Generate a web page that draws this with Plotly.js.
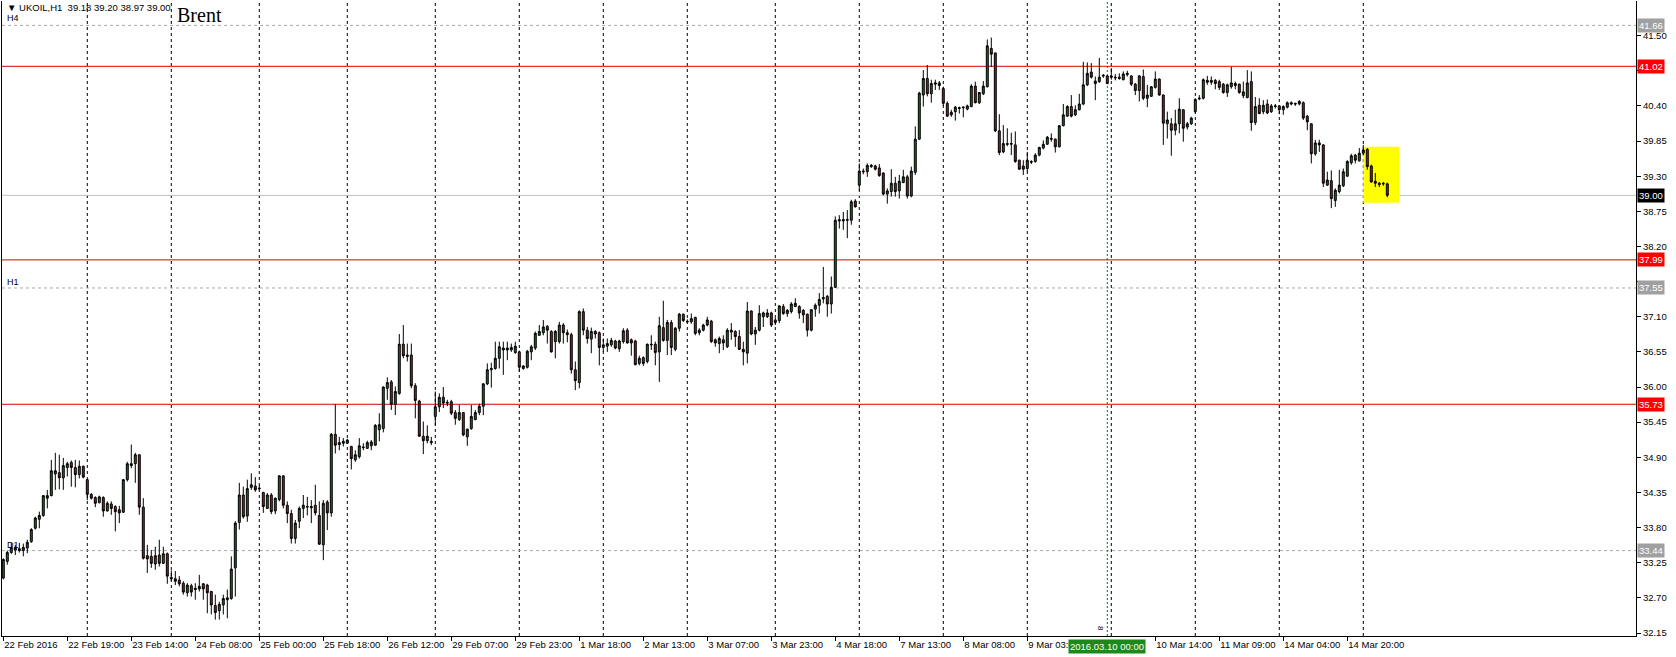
<!DOCTYPE html>
<html><head><meta charset="utf-8">
<script src="https://cdn.plot.ly/plotly-3.0.1.min.js"></script>
<style>html,body{margin:0;padding:0;background:#fff;}#chart{width:1676px;height:657px;}</style>
</head><body><div id="chart"></div>
<script>
// ---- UKOIL H1 OHLC ----
const openP = [33.01,33.27,33.41,33.49,33.47,33.44,33.48,33.58,33.79,33.93,33.99,34.26,34.30,34.64,34.66,34.58,34.74,34.82,34.74,34.63,
34.76,34.55,34.32,34.27,34.19,34.27,34.06,34.17,34.13,34.08,34.04,34.55,34.77,34.80,34.94,34.12,33.36,33.35,33.23,33.37,
33.24,33.39,33.02,33.00,32.98,32.93,32.78,32.89,32.85,32.84,32.92,32.90,32.80,32.58,32.50,32.59,32.67,32.69,33.17,33.88,
34.31,33.98,34.43,34.45,34.42,34.35,34.10,34.31,34.06,34.24,34.61,34.15,34.02,33.63,33.90,34.10,34.12,34.13,34.15,33.99,
33.53,34.20,34.03,35.26,35.13,35.12,35.12,35.07,34.86,34.91,35.05,35.04,35.08,35.09,35.33,35.35,35.98,36.08,35.73,35.90,
36.67,36.50,36.50,36.02,35.78,35.23,35.16,35.15,35.54,35.69,35.84,35.76,35.77,35.60,35.49,35.60,35.22,35.35,35.49,35.60,
35.70,36.05,36.27,36.29,36.45,36.58,36.58,36.58,36.54,36.55,36.29,36.31,36.55,36.61,36.81,36.85,36.95,36.87,36.71,36.71,
36.97,36.85,36.82,36.27,36.07,37.18,36.89,36.75,36.87,36.85,36.62,36.64,36.66,36.72,36.60,36.71,36.89,36.74,36.72,36.37,
36.46,36.40,36.67,36.67,36.55,36.93,36.73,37.01,36.59,36.92,37.14,37.03,37.02,37.09,36.85,36.89,36.97,37.03,36.74,36.68,
36.74,36.63,36.89,36.87,36.79,36.59,36.53,37.19,36.83,36.89,37.10,37.10,37.16,37.05,37.04,37.26,37.15,37.18,37.26,37.26,
37.20,37.14,36.89,37.22,37.28,37.38,37.42,37.30,37.56,38.62,38.60,38.61,38.61,38.91,39.16,39.38,39.37,39.45,39.46,39.43,
39.35,39.02,39.06,39.19,39.07,39.20,39.29,38.99,39.36,39.88,40.57,40.83,40.59,40.74,40.76,40.67,40.44,40.30,40.31,40.36,
40.37,40.35,40.39,40.71,40.45,40.59,40.70,41.30,41.23,40.01,39.68,39.81,39.80,39.79,39.55,39.46,39.42,39.53,39.53,39.63,
39.74,39.80,39.89,39.88,39.76,40.09,40.24,40.39,40.26,40.34,40.43,40.73,40.93,40.79,40.78,40.88,40.87,40.87,40.85,40.85,
40.81,40.89,40.87,40.74,40.64,40.86,40.52,40.55,40.69,40.82,40.57,40.12,40.12,40.02,40.12,40.34,40.07,40.12,40.31,40.51,
40.52,40.80,40.77,40.80,40.78,40.74,40.61,40.70,40.75,40.74,40.56,40.53,40.78,40.14,40.41,40.31,40.43,40.31,40.39,40.40,
40.34,40.38,40.45,40.44,40.43,40.45,40.24,40.12,39.65,39.82,39.79,39.16,39.23,38.92,39.06,39.15,39.30,39.51,39.63,39.54,
39.66,39.72,39.46,39.22,39.19,39.19,39.18];
const highP = [33.32,33.44,33.56,33.53,33.56,33.55,33.61,33.79,33.97,34.05,34.31,34.39,34.86,34.97,34.94,34.89,34.83,34.85,34.86,34.85,
34.77,34.56,34.34,34.29,34.30,34.29,34.21,34.21,34.15,34.14,34.56,34.83,35.10,34.97,34.94,34.26,33.53,33.45,33.50,33.61,
33.50,33.41,33.13,33.12,33.04,32.96,32.93,32.92,32.93,33.06,32.93,32.92,32.81,32.75,32.64,32.75,32.83,33.35,33.90,34.50,
34.44,34.55,34.65,34.59,34.46,34.36,34.34,34.34,34.27,34.62,34.62,34.21,34.08,33.92,34.13,34.31,34.28,34.23,34.47,34.21,
34.23,34.23,35.28,35.73,35.22,35.20,35.19,35.08,35.01,35.20,35.12,35.16,35.17,35.42,35.59,36.01,36.15,36.11,36.01,36.83,
36.97,36.68,36.68,36.06,35.80,35.46,35.40,35.22,35.93,35.90,36.00,35.80,35.80,35.64,35.72,35.61,35.35,35.72,35.64,35.74,
36.06,36.37,36.38,36.71,36.71,36.71,36.71,36.68,36.71,36.57,36.34,36.58,36.66,36.87,36.97,37.05,36.97,36.89,36.89,37.02,
37.00,36.90,36.85,36.40,37.20,37.23,36.94,36.93,36.89,36.87,36.76,36.76,36.77,36.74,36.74,36.92,36.92,36.76,36.74,36.49,
36.48,36.68,36.81,36.71,37.10,37.35,37.05,37.05,36.94,37.16,37.15,37.06,37.15,37.10,36.92,36.99,37.10,37.05,36.76,36.79,
36.81,36.92,37.00,36.89,36.89,36.71,37.33,37.20,36.94,37.28,37.18,37.22,37.18,37.08,37.28,37.30,37.22,37.33,37.39,37.28,
37.22,37.15,37.22,37.31,37.47,37.88,37.44,37.73,38.67,38.69,38.74,38.77,38.93,38.94,39.50,39.42,39.50,39.49,39.48,39.49,
39.36,39.11,39.41,39.29,39.32,39.40,39.32,39.45,40.08,40.62,40.96,41.04,40.81,40.81,40.79,40.70,40.47,40.34,40.40,40.39,
40.39,40.42,40.74,40.78,40.62,40.79,41.44,41.47,41.23,40.27,40.10,40.05,39.98,40.00,39.56,39.55,39.68,39.55,39.66,39.76,
39.86,39.93,39.97,39.89,40.10,40.43,40.41,40.57,40.41,40.59,41.09,41.08,41.07,40.86,41.15,40.90,40.88,40.99,40.90,40.91,
40.94,40.95,40.88,40.76,40.88,40.97,40.73,40.71,40.94,40.83,40.58,40.31,40.21,40.34,40.52,40.35,40.15,40.23,40.52,40.57,
40.83,40.87,40.86,40.82,40.81,40.76,40.75,41.01,40.78,40.75,40.78,40.96,40.94,40.54,40.52,40.49,40.50,40.43,40.43,40.41,
40.41,40.47,40.47,40.45,40.49,40.47,40.26,40.13,39.87,39.87,39.80,39.37,39.39,39.11,39.40,39.42,39.55,39.65,39.65,39.74,
39.79,39.74,39.48,39.35,39.21,39.21,39.20];
const lowP = [32.99,33.22,33.39,33.37,33.41,33.35,33.40,33.56,33.77,33.79,33.97,34.10,34.29,34.39,34.40,34.39,34.60,34.44,34.43,34.57,
34.57,34.23,34.24,34.12,34.18,33.97,34.05,34.00,33.74,33.87,34.03,34.52,34.73,34.50,34.00,33.30,33.09,33.17,33.14,33.19,
33.23,32.92,32.96,32.90,32.88,32.75,32.72,32.72,32.67,32.80,32.67,32.46,32.44,32.36,32.36,32.44,32.38,32.67,32.72,33.77,
33.94,33.89,34.39,34.36,34.38,34.03,34.09,34.01,34.01,34.21,34.10,33.87,33.55,33.55,33.79,33.95,33.99,33.87,33.99,33.53,
33.29,33.76,33.97,34.96,35.01,35.07,35.11,34.71,34.83,34.88,35.01,35.03,35.01,35.08,35.15,35.29,35.80,35.64,35.56,35.88,
36.45,36.40,35.98,35.51,35.22,34.95,35.12,35.09,35.40,35.61,35.67,35.70,35.56,35.41,35.47,35.23,35.08,35.33,35.48,35.56,
35.56,36.03,35.99,36.27,36.29,36.19,36.42,36.55,36.52,36.24,36.27,36.29,36.42,36.58,36.80,36.81,36.68,36.54,36.45,36.68,
36.68,36.70,36.21,35.95,35.98,36.81,36.68,36.53,36.76,36.34,36.55,36.55,36.63,36.59,36.55,36.68,36.68,36.49,36.34,36.34,
36.33,36.37,36.58,36.34,36.08,36.71,36.50,36.50,36.56,36.87,37.02,37.00,36.99,36.81,36.81,36.87,36.95,36.69,36.63,36.53,
36.58,36.61,36.74,36.63,36.58,36.34,36.37,36.81,36.66,36.87,36.94,37.08,36.94,36.97,37.00,37.13,37.10,37.15,37.25,37.07,
37.00,36.79,36.87,37.10,37.15,37.31,37.10,37.15,37.55,38.48,38.46,38.33,38.54,38.81,39.08,39.33,39.29,39.43,39.39,39.29,
39.00,38.87,38.98,38.98,38.95,39.19,38.95,38.97,39.32,39.87,40.39,40.55,40.45,40.65,40.65,40.40,40.23,40.23,40.17,40.28,
40.22,40.33,40.38,40.44,40.43,40.57,40.69,41.01,39.99,39.63,39.66,39.77,39.63,39.51,39.40,39.32,39.37,39.49,39.51,39.61,
39.72,39.79,39.84,39.67,39.75,40.08,40.23,40.22,40.24,40.33,40.41,40.71,40.83,40.49,40.76,40.84,40.74,40.81,40.80,40.81,
40.80,40.86,40.71,40.57,40.47,40.49,40.38,40.54,40.67,40.56,39.79,39.89,39.62,39.94,39.97,39.84,40.03,40.10,40.29,40.49,
40.50,40.73,40.73,40.66,40.65,40.59,40.54,40.67,40.66,40.59,40.52,40.52,40.01,40.10,40.27,40.27,40.27,40.29,40.36,40.27,
40.26,40.36,40.41,40.40,40.41,40.18,40.02,39.50,39.62,39.68,39.13,39.15,38.80,38.82,39.03,39.13,39.29,39.48,39.50,39.53,
39.63,39.40,39.20,39.13,39.13,39.15,38.97];
const closeP = [33.30,33.41,33.49,33.45,33.44,33.49,33.57,33.77,33.95,33.99,34.30,34.30,34.69,34.69,34.58,34.77,34.80,34.74,34.63,34.76,
34.59,34.32,34.26,34.18,34.28,34.06,34.18,34.10,34.05,34.03,34.55,34.80,34.80,34.94,34.12,33.32,33.31,33.24,33.36,33.24,
33.39,33.04,33.00,32.96,32.92,32.79,32.90,32.79,32.83,32.88,32.84,32.78,32.59,32.47,32.60,32.69,32.70,33.15,33.87,34.31,
33.97,34.41,34.47,34.39,34.41,34.13,34.31,34.05,34.26,34.61,34.15,34.02,33.63,33.87,34.10,34.15,34.13,34.11,34.03,33.54,
34.18,34.03,35.26,35.09,35.10,35.15,35.17,34.88,34.94,35.08,35.06,35.13,35.14,35.40,35.41,36.00,36.07,35.73,35.93,36.67,
36.49,36.48,36.02,35.79,35.23,35.16,35.23,35.13,35.69,35.84,35.75,35.75,35.59,35.51,35.60,35.25,35.34,35.54,35.60,35.70,
36.05,36.27,36.29,36.45,36.63,36.61,36.61,36.62,36.64,36.31,36.33,36.56,36.63,36.84,36.87,36.94,36.89,36.55,36.87,36.97,
36.85,36.82,36.27,36.10,37.18,36.89,36.76,36.87,36.83,36.62,36.66,36.68,36.73,36.61,36.72,36.88,36.69,36.69,36.35,36.45,
36.37,36.67,36.66,36.54,36.96,36.73,37.01,36.62,36.92,37.14,37.04,37.02,37.07,36.84,36.89,36.97,37.05,36.71,36.69,36.76,
36.69,36.89,36.86,36.79,36.59,36.55,37.19,36.83,36.89,37.15,37.16,37.16,36.97,37.01,37.27,37.15,37.20,37.30,37.31,37.16,
37.13,36.89,37.21,37.28,37.37,37.40,37.30,37.56,38.61,38.60,38.62,38.62,38.90,38.82,39.38,39.37,39.47,39.47,39.41,39.31,
39.02,39.07,39.19,39.06,39.22,39.29,38.99,39.38,39.88,40.60,40.83,40.59,40.75,40.76,40.72,40.44,40.24,40.26,40.38,40.37,
40.38,40.40,40.71,40.45,40.61,40.71,41.34,41.21,40.01,39.67,39.81,39.80,39.81,39.53,39.41,39.41,39.55,39.52,39.63,39.75,
39.80,39.91,39.88,39.76,40.09,40.26,40.39,40.24,40.34,40.43,40.73,40.91,40.85,40.75,40.85,40.87,40.75,40.85,40.84,40.83,
40.90,40.91,40.74,40.64,40.87,40.52,40.57,40.70,40.82,40.57,40.13,40.18,40.02,40.12,40.35,40.05,40.12,40.21,40.50,40.52,
40.81,40.77,40.80,40.75,40.69,40.61,40.73,40.76,40.72,40.61,40.62,40.76,40.14,40.39,40.28,40.41,40.29,40.40,40.40,40.34,
40.39,40.45,40.43,40.43,40.47,40.21,40.15,39.65,39.82,39.79,39.19,39.24,38.95,39.08,39.16,39.37,39.53,39.62,39.55,39.66,
39.71,39.45,39.21,39.19,39.17,39.18,39.00];

// ---- axis tick labels (bar index of each label) ----
const timeTickBars = [0,16,32,48,64,80,96,112,128,144,160,176,192,208,224,240,256,288,304,320,336];
const timeTickText = ['22 Feb 2016','22 Feb 19:00','23 Feb 14:00','24 Feb 08:00','25 Feb 00:00','25 Feb 18:00','26 Feb 12:00',
  '29 Feb 07:00','29 Feb 23:00','1 Mar 18:00','2 Mar 13:00','3 Mar 07:00','3 Mar 23:00','4 Mar 18:00','7 Mar 13:00',
  '8 Mar 08:00','9 Mar 03:00','10 Mar 14:00','11 Mar 09:00','14 Mar 04:00','14 Mar 20:00'];
const priceTicks = [32.15,32.70,33.25,33.80,34.35,34.90,35.45,36.00,36.55,37.10,37.65,38.20,38.75,39.30,39.85,40.40,40.95,41.50];
const hiddenPriceTicks = [37.65, 40.95];   // covered by the level labels in the reference
const gridBars = [21,42,64,86,108,129,150,171,193,214,235,256,277,298,319,340];

// ---- chart objects ----
const redLevels = [41.02, 37.99, 35.73];
const periodLevels = [41.66, 37.55, 33.44];
const periodNames = ['H4', 'H1', 'D1'];
const bidPrice = 39.00;
const markBar = 276;            // vertical line 2016.03.10 00:00
const markLabel = '2016.03.10 00:00';
const boxBars = [340, 349];
const boxPrices = [38.885, 39.76];
const headerText = '\u25BC UKOIL,H1\u00a0\u00a039.18 39.20 38.97 39.00';

const xs = openP.map((_, i) => i);
const FONT = 'Liberation Sans, Arial, sans-serif';

const traces = [{
  type: 'candlestick', x: xs, open: openP, high: highP, low: lowP, close: closeP,
  increasing: {line: {color: '#000000', width: 1}, fillcolor: '#236b23'},
  decreasing: {line: {color: '#000000', width: 1}, fillcolor: '#a31e1e'},
  whiskerwidth: 0, hoverinfo: 'skip', showlegend: false
}];

const shapes = [];
gridBars.forEach(b => shapes.push({type: 'line', xref: 'x', yref: 'paper', x0: b, x1: b, y0: 0, y1: 1,
  line: {color: '#000000', width: 1, dash: '3px,3px'}, layer: 'below'}));
shapes.push({type: 'rect', xref: 'x', yref: 'y', x0: boxBars[0], x1: boxBars[1], y0: boxPrices[0], y1: boxPrices[1],
  fillcolor: '#ffff00', line: {width: 0}, layer: 'below'});
periodLevels.forEach(p => shapes.push({type: 'line', xref: 'paper', yref: 'y', x0: 0, x1: 1, y0: p, y1: p,
  line: {color: '#a8a8a8', width: 1, dash: '3px,3px'}, layer: 'below'}));
redLevels.forEach(p => shapes.push({type: 'line', xref: 'paper', yref: 'y', x0: 0, x1: 1, y0: p, y1: p,
  line: {color: '#dd0000', width: 1}, layer: 'below'}));
shapes.push({type: 'line', xref: 'paper', yref: 'y', x0: 0, x1: 1, y0: bidPrice, y1: bidPrice,
  line: {color: '#c0c0c0', width: 1}, layer: 'below'});
shapes.push({type: 'line', xref: 'x', yref: 'paper', x0: markBar, x1: markBar, y0: 0, y1: 1,
  line: {color: '#008000', width: 1, dash: '2px,2px'}, layer: 'below'});

const ann = [];
function sideLabel(p, bg) {
  ann.push({xref: 'paper', yref: 'y', x: 1, y: p, xanchor: 'left', yanchor: 'middle', xshift: 1,
    text: p.toFixed(2), showarrow: false, bgcolor: bg, borderpad: 1,
    font: {family: FONT, size: 9.5, color: '#ffffff'}});
}
periodLevels.forEach(p => sideLabel(p, '#a0a0a0'));
redLevels.forEach(p => sideLabel(p, '#ff0000'));
sideLabel(bidPrice, '#000000');
periodLevels.forEach((p, k) => {
  if (k === 0) {
    ann.push({xref: 'paper', yref: 'paper', x: 0, y: 1, xanchor: 'left', yanchor: 'top', xshift: 3, yshift: -10,
      text: periodNames[k], showarrow: false, font: {family: FONT, size: 9, color: '#000'}});
  } else {
    ann.push({xref: 'paper', yref: 'y', x: 0, y: p, xanchor: 'left', yanchor: 'bottom', xshift: 3, yshift: -1,
      text: periodNames[k], showarrow: false, font: {family: FONT, size: 9, color: '#000'}});
  }
});
ann.push({xref: 'paper', yref: 'paper', x: 0, y: 1, xanchor: 'left', yanchor: 'top', xshift: 3, yshift: 1,
  text: headerText, showarrow: false, font: {family: FONT, size: 9.5, color: '#000'}});
ann.push({xref: 'paper', yref: 'paper', x: 0, y: 1, xanchor: 'left', yanchor: 'middle', xshift: 173, yshift: -14,
  text: 'Brent', showarrow: false, font: {family: 'Liberation Serif, Times New Roman, serif', size: 20, color: '#000'}});
ann.push({xref: 'x', yref: 'paper', x: markBar, y: 0, xanchor: 'center', yanchor: 'top', yshift: -3,
  text: markLabel, showarrow: false, bgcolor: '#1b8a1b', borderpad: 1,
  font: {family: FONT, size: 9.5, color: '#ffffff'}});
ann.push({xref: 'x', yref: 'paper', x: markBar - 1.7, y: 0, xanchor: 'center', yanchor: 'bottom', yshift: 3,
  text: '8', textangle: 90, showarrow: false, font: {family: FONT, size: 8, color: '#000'}});

const layout = {
  width: 1676, height: 657,
  margin: {l: 2, r: 40, t: 1, b: 21, pad: 0},
  paper_bgcolor: '#ffffff', plot_bgcolor: '#ffffff',
  showlegend: false, hovermode: false,
  xaxis: {range: [-0.325, 408.175], rangeslider: {visible: false}, showgrid: false, zeroline: false,
    tickmode: 'array', tickvals: timeTickBars, ticktext: timeTickText, ticks: 'outside', ticklen: 4,
    tickangle: 0, tickcolor: '#000', ticklabelposition: 'outside right', showline: true, linecolor: '#000', linewidth: 1,
    tickfont: {family: FONT, size: 9.5, color: '#000'}, automargin: false, fixedrange: true},
  yaxis: {range: [32.103, 42.042], side: 'right', showgrid: false, zeroline: false,
    tickmode: 'array', tickvals: priceTicks,
    ticktext: priceTicks.map(v => hiddenPriceTicks.includes(v) ? '' : v.toFixed(2)),
    ticks: 'outside', ticklen: 4, tickcolor: '#000', showline: true, mirror: true, linecolor: '#000', linewidth: 1,
    tickfont: {family: FONT, size: 9.5, color: '#000'}, automargin: false, fixedrange: true},
  shapes: shapes, annotations: ann
};
Plotly.newPlot('chart', traces, layout, {staticPlot: true, displayModeBar: false});
</script></body></html>
